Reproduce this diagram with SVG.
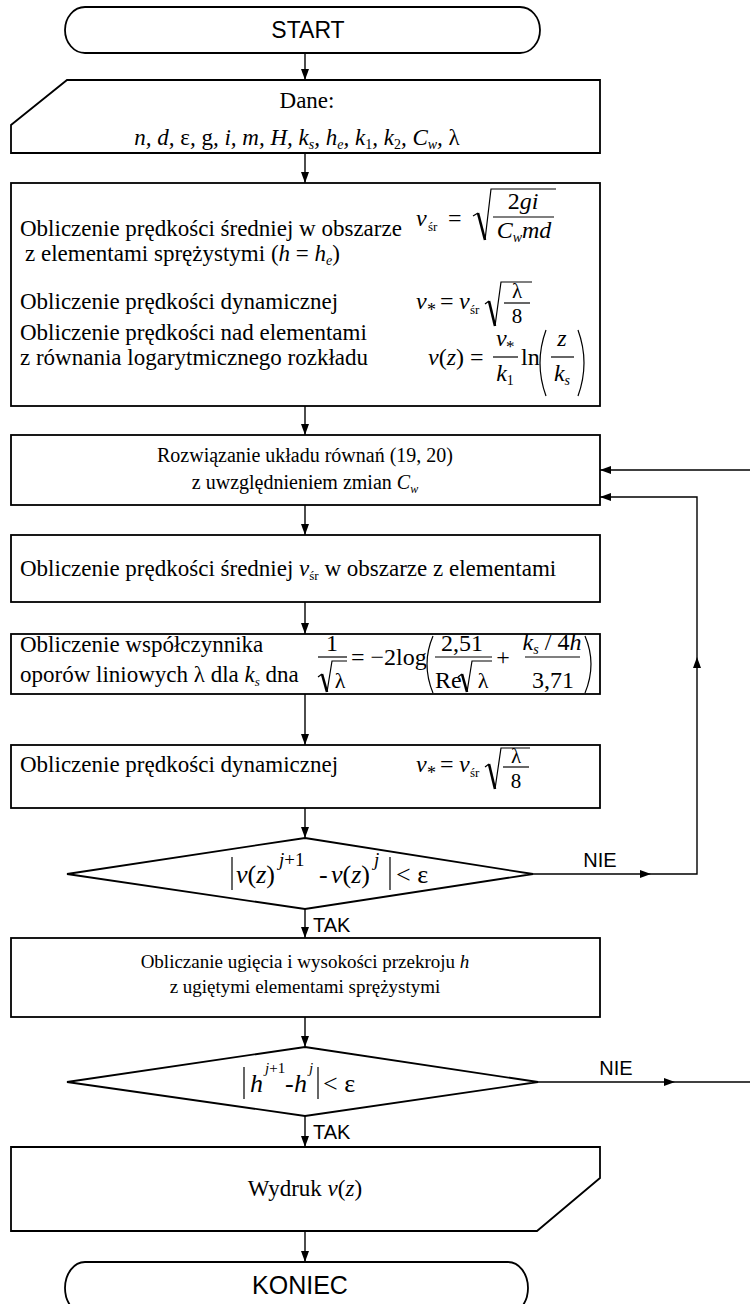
<svg xmlns="http://www.w3.org/2000/svg" width="750" height="1304" viewBox="0 0 750 1304">
<style>
.box{fill:none;stroke:#000;stroke-width:1.8}
.ln{fill:none;stroke:#000;stroke-width:1.4}
.bar{stroke:#000;stroke-width:1.2}
.rad{fill:none;stroke:#000;stroke-width:1.2;stroke-linejoin:miter}
.radb{fill:none;stroke:#000;stroke-width:2.6}
.t{font-family:"Liberation Serif","Times New Roman",serif;font-size:23px;fill:#000}
.f{font-family:"Liberation Serif","Times New Roman",serif;font-size:24px;fill:#000}
.i{font-style:italic}
.n{font-style:normal}
.s{font-family:"Liberation Sans",Arial,sans-serif;fill:#000}
</style>
<defs>
<marker id="ah" viewBox="0 0 11 8" refX="11" refY="4" markerWidth="11" markerHeight="8" markerUnits="userSpaceOnUse" orient="auto">
<path d="M0,0 L11,4 L0,8 z" fill="#000"/>
</marker>
</defs>
<rect width="750" height="1304" fill="#fff"/>

<g id="connectors">
<path class="ln" d="M305,53 V80" marker-end="url(#ah)"/>
<path class="ln" d="M305,153 V183" marker-end="url(#ah)"/>
<path class="ln" d="M305,406 V435" marker-end="url(#ah)"/>
<path class="ln" d="M305,505 V535" marker-end="url(#ah)"/>
<path class="ln" d="M305,602 V634" marker-end="url(#ah)"/>
<path class="ln" d="M305,694 V745" marker-end="url(#ah)"/>
<path class="ln" d="M305,808 V838" marker-end="url(#ah)"/>
<path class="ln" d="M305,909 V938" marker-end="url(#ah)"/>
<path class="ln" d="M305,1017 V1047" marker-end="url(#ah)"/>
<path class="ln" d="M305,1116 V1147" marker-end="url(#ah)"/>
<path class="ln" d="M305,1231 V1262" marker-end="url(#ah)"/>
<path class="ln" d="M533,874 H651" marker-end="url(#ah)"/>
<path class="ln" d="M651,874 H697 V657" marker-end="url(#ah)"/>
<path class="ln" d="M697,657 V497 H600" marker-end="url(#ah)"/>
<path class="ln" d="M538,1082 H675" marker-end="url(#ah)"/>
<path class="ln" d="M675,1082 H750"/>
<path class="ln" d="M750,470 H600" marker-end="url(#ah)"/>
<text class="s" x="600" y="867" font-size="20" text-anchor="middle">NIE</text>
<text class="s" x="313" y="932" font-size="20">TAK</text>
<text class="s" x="616" y="1075" font-size="20" text-anchor="middle">NIE</text>
<text class="s" x="313" y="1139" font-size="20">TAK</text>
</g>

<g id="start">
<rect class="box" x="65" y="7" width="475" height="46" rx="20" ry="23"/>
<text class="s" x="308" y="38" font-size="23" text-anchor="middle">START</text>
</g>

<g id="dane">
<path class="box" d="M67,80 H600 V153 H11 V125 Z"/>
<text class="t" x="307" y="108" text-anchor="middle">Dane:</text>
<text class="t i" x="297" y="145" text-anchor="middle">n, d, <tspan class="n">ε</tspan>, <tspan class="n">g</tspan>, i, m, H, k<tspan dy="4" font-size="14">s</tspan><tspan dy="-4">, h</tspan><tspan dy="4" font-size="14">e</tspan><tspan dy="-4">, k</tspan><tspan class="n" dy="4" font-size="14">1</tspan><tspan dy="-4">, k</tspan><tspan class="n" dy="4" font-size="14">2</tspan><tspan dy="-4">, C</tspan><tspan dy="4" font-size="14">w</tspan><tspan dy="-4">, </tspan><tspan class="n">λ</tspan></text>
</g>

<g id="obliczenia1">
<rect class="box" x="11" y="183" width="589" height="223"/>
<text class="t" x="20" y="236">Obliczenie prędkości średniej w obszarze</text>
<text class="t" x="25" y="261">z elementami sprężystymi (<tspan class="i">h</tspan> = <tspan class="i">h</tspan><tspan class="i" dy="4" font-size="14">e</tspan><tspan dy="-4">)</tspan></text>
<text class="f" y="226"><tspan class="i" x="416">v</tspan><tspan x="428" y="231" font-size="13">śr</tspan><tspan x="448" y="226">=</tspan></text>
<path class="rad" d="M473,216 L478,213 M485,240 L491,189 L556,189"/>
<path class="radb" d="M478,213 L485,240"/>
<text class="f" x="523" y="209" text-anchor="middle">2<tspan class="i">gi</tspan></text>
<line class="bar" x1="493" y1="217" x2="554" y2="217"/>
<text class="f i" x="524" y="238" text-anchor="middle">C<tspan dy="4" font-size="14">w</tspan><tspan dy="-4">md</tspan></text>

<text class="t" x="20" y="309">Obliczenie prędkości dynamicznej</text>
<text class="f" y="309"><tspan class="i" x="416">v</tspan><tspan x="427" y="316" font-size="18">*</tspan><tspan x="440" y="309">=</tspan><tspan class="i" x="459">v</tspan><tspan x="470" y="314" font-size="13">śr</tspan></text>
<path class="rad" d="M485,304 L489,301 M495,326 L501,282 L532,282"/>
<path class="radb" d="M489,301 L495,326"/>
<text class="f" style="font-size:21px" text-anchor="middle"><tspan x="517" y="298">λ</tspan><tspan x="517" y="323">8</tspan></text>
<line class="bar" x1="504" y1="303" x2="530" y2="303"/>

<text class="t" x="20" y="340">Obliczenie prędkości nad elementami</text>
<text class="t" x="20" y="365">z równania logarytmicznego rozkładu</text>
<text class="f" x="428" y="365"><tspan class="i">v</tspan>(<tspan class="i">z</tspan>) =</text>
<text class="f" y="346"><tspan class="i" x="496">v</tspan><tspan x="506" y="352" font-size="17">*</tspan></text>
<line class="bar" x1="493" y1="357" x2="518" y2="357"/>
<text class="f i" x="505" y="381" text-anchor="middle">k<tspan class="n" dy="4" font-size="14">1</tspan></text>
<text class="f" x="521" y="365">ln</text>
<path class="rad" d="M546,330 Q534,363 546,396"/>
<text class="f i" x="562" y="346" text-anchor="middle">z</text>
<line class="bar" x1="551" y1="357" x2="574" y2="357"/>
<text class="f i" x="562" y="381" text-anchor="middle">k<tspan dy="4" font-size="14">s</tspan></text>
<path class="rad" d="M578,330 Q590,363 578,396"/>
</g>

<g id="rozwiazanie">
<rect class="box" x="11" y="435" width="589" height="70"/>
<text class="t" x="305" y="462" text-anchor="middle" style="font-size:20px">Rozwiązanie układu równań (19, 20)</text>
<text class="t" x="305" y="489" text-anchor="middle" style="font-size:20px">z uwzględnieniem zmian <tspan class="i">C</tspan><tspan class="i" dy="4" font-size="12">w</tspan></text>
</g>

<g id="predkosc-srednia">
<rect class="box" x="11" y="535" width="589" height="67"/>
<text class="t" x="20" y="576">Obliczenie prędkości średniej <tspan class="i">v</tspan><tspan dy="4" font-size="13">śr</tspan><tspan dy="-4"> w obszarze z elementami</tspan></text>
</g>

<g id="wspolczynnik">
<rect class="box" x="11" y="634" width="589" height="60"/>
<text class="t" x="20" y="652">Obliczenie współczynnika</text>
<text class="t" x="20" y="682">oporów liniowych λ dla <tspan class="i">k</tspan><tspan class="i" dy="4" font-size="13">s</tspan><tspan dy="-4"> dna</tspan></text>
<text class="f" text-anchor="middle"><tspan x="332" y="651">1</tspan><tspan x="340" y="688" font-size="22">λ</tspan></text>
<line class="bar" x1="318" y1="657" x2="347" y2="657"/>
<path class="rad" d="M318,677 L322,674 M327,692 L332,661 L347,661"/>
<path class="radb" d="M322,674 L327,692"/>
<text class="f" x="351" y="665">= −2log</text>
<path class="rad" d="M433,636 Q421,664 433,693"/>
<text class="f"><tspan x="462" y="651" text-anchor="middle">2,51</tspan><tspan x="435" y="688">Re</tspan></text>
<line class="bar" x1="435" y1="657" x2="492" y2="657"/>
<path class="rad" d="M458,677 L462,674 M467,692 L472,661 L492,661"/>
<path class="radb" d="M462,674 L467,692"/>
<text class="f" x="483" y="688" text-anchor="middle" style="font-size:22px">λ</text>
<text class="f" x="503" y="665" text-anchor="middle">+</text>
<text class="f" x="552" y="650" text-anchor="middle"><tspan class="i">k</tspan><tspan class="i" dy="4" font-size="14">s</tspan><tspan dy="-4"> / 4</tspan><tspan class="i">h</tspan></text>
<line class="bar" x1="525" y1="657" x2="580" y2="657"/>
<text class="f" x="553" y="688" text-anchor="middle">3,71</text>
<path class="rad" d="M585,636 Q597,664 585,693"/>
</g>

<g id="predkosc-dynamiczna">
<rect class="box" x="11" y="745" width="589" height="63"/>
<text class="t" x="20" y="772">Obliczenie prędkości dynamicznej</text>
<text class="f" y="772"><tspan class="i" x="416">v</tspan><tspan x="427" y="779" font-size="18">*</tspan><tspan x="440" y="772">=</tspan><tspan class="i" x="459">v</tspan><tspan x="470" y="777" font-size="13">śr</tspan></text>
<path class="rad" d="M485,767 L489,764 M495,789 L501,748 L530,748"/>
<path class="radb" d="M489,764 L495,789"/>
<text class="f" style="font-size:21px" text-anchor="middle"><tspan x="516" y="763">λ</tspan><tspan x="516" y="788">8</tspan></text>
<line class="bar" x1="503" y1="767" x2="529" y2="767"/>
</g>

<g id="warunek-v">
<path class="box" d="M305,838 L533,874 L305,909 L67,874 Z"/>
<line class="bar" x1="232" y1="857" x2="232" y2="890"/>
<line class="bar" x1="390" y1="857" x2="390" y2="890"/>
<text class="f" style="font-size:26px" y="883"><tspan x="236" class="i">v</tspan>(<tspan class="i">z</tspan>)<tspan x="279" y="866" font-size="19" class="i">j</tspan><tspan y="866" font-size="19">+1</tspan><tspan x="319" y="883">-</tspan><tspan x="331" class="i">v</tspan>(<tspan class="i">z</tspan>)<tspan x="374" y="866" font-size="19" class="i">j</tspan><tspan x="396" y="883">&lt; ε</tspan></text>
</g>

<g id="ugiecie">
<rect class="box" x="11" y="938" width="589" height="79"/>
<text class="t" x="305" y="968" text-anchor="middle" style="font-size:19px">Obliczanie ugięcia i wysokości przekroju <tspan class="i">h</tspan></text>
<text class="t" x="305" y="993" text-anchor="middle" style="font-size:19px">z ugiętymi elementami sprężystymi</text>
</g>

<g id="warunek-h">
<path class="box" d="M305,1047 L538,1082 L305,1116 L67,1082 Z"/>
<line class="bar" x1="244" y1="1067" x2="244" y2="1099"/>
<line class="bar" x1="318" y1="1067" x2="318" y2="1099"/>
<text class="f" style="font-size:26px" y="1092"><tspan x="250" class="i">h</tspan><tspan x="265" y="1073" font-size="15" class="i">j</tspan><tspan y="1073" font-size="15">+1</tspan><tspan x="285" y="1092">-</tspan><tspan x="294" class="i">h</tspan><tspan x="309" y="1073" font-size="15" class="i">j</tspan><tspan x="323" y="1092">&lt; ε</tspan></text>
</g>

<g id="wydruk">
<path class="box" d="M11,1147 H600 V1178 L537,1231 H11 Z"/>
<text class="t" x="305" y="1196" text-anchor="middle">Wydruk <tspan class="i">v</tspan>(<tspan class="i">z</tspan>)</text>
</g>

<g id="koniec">
<rect class="box" x="65" y="1262" width="463" height="52" rx="20" ry="26"/>
<text class="s" x="300" y="1294" font-size="25" text-anchor="middle">KONIEC</text>
</g>
</svg>
